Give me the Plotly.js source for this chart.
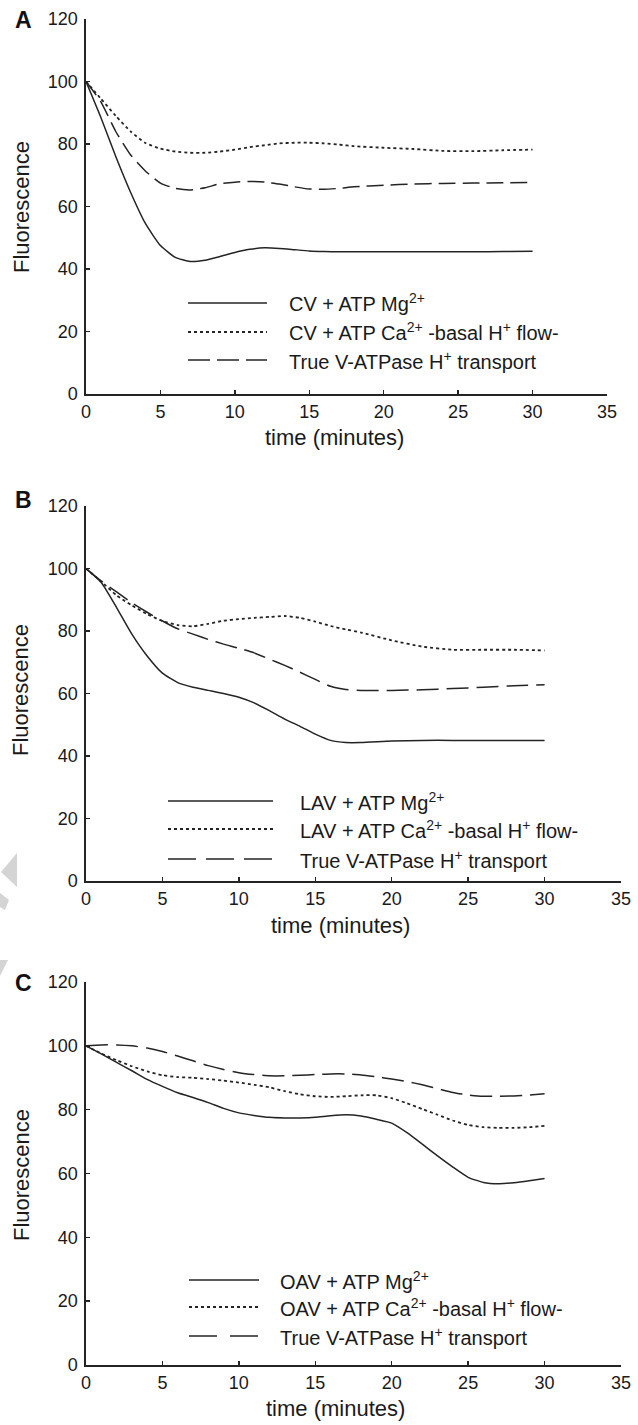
<!DOCTYPE html>
<html><head><meta charset="utf-8">
<script src="https://cdn.plot.ly/plotly-3.0.1.min.js"></script>
<style>html,body{margin:0;padding:0;background:#fff}#chart{width:638px;height:1425px}</style>
</head><body><div id="chart"></div>
<script>
// ---- data ----
const timeAB = [0,1,2,3,4,5,6,7,8,9,10,11,12,13,14,15,16,17,18,20,22,24,26,28,30];
const timeC  = [0,1,2,3,4,5,6,7,8,9,10,11,12,13,14,15,16,17,18,19,20,21,22,23,24,25,26,27,28,29,30];

// Panel A: CV
const cvMg   = [100,88.5,76,64.5,54.5,47.5,43.7,42.4,42.8,44,45.3,46.3,46.8,46.6,46.2,45.8,45.6,45.5,45.5,45.5,45.5,45.5,45.5,45.6,45.7];
const cvCa   = [100,94.5,89,84,80.3,78.5,77.6,77.2,77.2,77.6,78.2,79,79.6,80.2,80.4,80.4,80.2,79.8,79.3,78.8,78.4,77.8,77.7,78,78.2];
const cvTrue = [100,93.5,84,76.5,71.3,67.5,65.8,65.3,66,67.3,67.8,68,67.8,67.2,66.3,65.6,65.5,65.8,66.3,66.8,67.2,67.4,67.5,67.6,67.7];

// Panel B: LAV
const lavMg   = [100,95.5,87.5,79,72,66.5,63.5,62,61,60,58.8,57,54.5,51.8,49.5,47,45,44.3,44.3,44.8,45,45,45,45,45];
const lavCa   = [100,95.8,91.4,88.2,85.4,83.2,81.9,81.5,82.3,83.3,83.8,84.2,84.5,84.8,84.2,83,81.6,80.5,79.5,77,75,74,74,74,73.8];
const lavTrue = [100,96,92.5,89,86,83.2,80.7,79,77.3,75.8,74.5,73,71,69,66.8,64.5,62.3,61.3,61,61,61.2,61.6,62,62.5,62.8];

// Panel C: OAV
const oavMg   = [100,97.5,94.8,92.2,89.5,87.3,85.3,83.8,82.2,80.4,79,78.2,77.6,77.4,77.4,77.6,78.1,78.4,78,77,75.8,72.8,69.2,65.5,62,58.8,57.2,56.8,57.1,57.7,58.4];
const oavCa   = [100,97.6,95.5,93.6,92,90.8,90.2,90,89.6,89.1,88.5,87.8,87,85.8,84.8,84.2,84,84.2,84.5,84.5,83.6,82,80.2,78.4,76.6,75.2,74.5,74.3,74.3,74.5,74.9];
const oavTrue = [100,100.3,100.3,100,99.3,98.2,96.8,95.3,93.8,92.6,91.6,91,90.6,90.6,90.8,91,91.2,91.2,90.9,90.3,89.6,88.8,87.8,86.6,85.4,84.6,84.2,84.2,84.3,84.6,85];

const namesA = ['CV + ATP Mg<sup>2+</sup>', 'CV + ATP Ca<sup>2+</sup> -basal H<sup>+</sup> flow-', 'True V-ATPase H<sup>+</sup> transport'];
const namesB = ['LAV + ATP Mg<sup>2+</sup>', 'LAV + ATP Ca<sup>2+</sup> -basal H<sup>+</sup> flow-', 'True V-ATPase H<sup>+</sup> transport'];
const namesC = ['OAV + ATP Mg<sup>2+</sup>', 'OAV + ATP Ca<sup>2+</sup> -basal H<sup>+</sup> flow-', 'True V-ATPase H<sup>+</sup> transport'];
const panelLetters = ['A','B','C'];
const xTickVals = [0,5,10,15,20,25,30,35];
const yTickVals = [0,20,40,60,80,100,120];
const xTitle = 'time (minutes)';
const yTitle = 'Fluorescence';

// ---- layout helpers ----
const W = 638, H = 1425;
const X = p => p / W, Y = p => 1 - p / H;
const FONT = 'Liberation Sans, Arial, Helvetica, sans-serif';
const INK = '#242424';

const panels = [
  {time: timeAB, series: [cvMg, cvCa, cvTrue], names: namesA,
   px: [86, 607], py: [394, 19], dash: '17px,7px',
   rows: [303, 332, 360], legLine: [188, 267], legText: 287, legDash: '22px,7px',
   letterPos: [23, 20], xt: [334, 438], yt: [21, 207]},
  {time: timeAB, series: [lavMg, lavCa, lavTrue], names: namesB,
   px: [86, 621], py: [881, 506], dash: '22px,8px',
   rows: [801, 829, 859], legLine: [168, 273], legText: 298, legDash: '28px,10px',
   letterPos: [23, 500], xt: [340, 925], yt: [21, 690]},
  {time: timeC, series: [oavMg, oavCa, oavTrue], names: namesC,
   px: [86, 621], py: [1365, 982], dash: '22px,8px',
   rows: [1280, 1307, 1336], legLine: [189, 259], legText: 278, legDash: '28px,13px',
   letterPos: [23, 983], xt: [335, 1408], yt: [21, 1175]}
];
const styles = ['solid', 'dot', null];

const data = [], shapes = [], annotations = [];
const layout = {
  width: W, height: H, margin: {l: 0, r: 0, t: 0, b: 0},
  paper_bgcolor: '#fff', plot_bgcolor: '#fff', showlegend: false,
  font: {family: FONT, color: INK}
};

panels.forEach((p, i) => {
  const sfx = i === 0 ? '' : String(i + 1);
  p.series.forEach((vals, k) => {
    data.push({
      type: 'scatter', mode: 'lines', x: p.time, y: vals, name: p.names[k],
      xaxis: 'x' + sfx, yaxis: 'y' + sfx,
      line: {color: INK, width: k === 1 ? 1.8 : 1.5, dash: styles[k] || p.dash, shape: 'spline', smoothing: 0.5},
      hoverinfo: 'x+y'
    });
  });
  const common = {showline: true, linecolor: INK, linewidth: 1.6, ticks: 'inside', ticklen: 4, tickwidth: 1.4,
    tickcolor: INK, showgrid: false, zeroline: false, automargin: false, fixedrange: true,
    tickfont: {family: FONT, size: 18, color: '#1a1a1a'}};
  layout['xaxis' + sfx] = Object.assign({}, common, {
    domain: [X(p.px[0]), X(p.px[1])], range: [0, 35], tickvals: xTickVals,
    anchor: 'y' + sfx, ticklabelstandoff: 1});
  layout['yaxis' + sfx] = Object.assign({}, common, {
    domain: [Y(p.py[0]), Y(p.py[1])], range: [0, 120], tickvals: yTickVals,
    anchor: 'x' + sfx, ticklabelstandoff: 3});

  // custom legend
  p.rows.forEach((ry, k) => {
    shapes.push({type: 'line', xref: 'paper', yref: 'paper',
      x0: X(p.legLine[0]), x1: X(p.legLine[1]), y0: Y(ry), y1: Y(ry),
      line: {color: INK, width: k === 1 ? 1.8 : 1.5, dash: styles[k] || p.legDash}});
    annotations.push({xref: 'paper', yref: 'paper', x: X(p.legText), y: Y(ry),
      xanchor: 'left', yanchor: 'middle', showarrow: false, text: p.names[k],
      font: {family: FONT, size: 20, color: '#1a1a1a'}});
  });
  // titles
  annotations.push({xref: 'paper', yref: 'paper', x: X(p.xt[0]), y: Y(p.xt[1]),
    xanchor: 'center', yanchor: 'middle', showarrow: false, text: xTitle,
    font: {family: FONT, size: 22, color: '#1a1a1a'}});
  annotations.push({xref: 'paper', yref: 'paper', x: X(p.yt[0]), y: Y(p.yt[1]),
    xanchor: 'center', yanchor: 'middle', showarrow: false, text: yTitle, textangle: -90,
    font: {family: FONT, size: 22, color: '#1a1a1a'}});
  annotations.push({xref: 'paper', yref: 'paper', x: X(p.letterPos[0]), y: Y(p.letterPos[1]),
    xanchor: 'center', yanchor: 'middle', showarrow: false, text: '<b>' + panelLetters[i] + '</b>',
    font: {family: FONT, size: 23, color: '#111'}});
});

// faint watermark fragments at the left edge
const pathPx = pts => pts.map((q, j) => (j ? 'L' : 'M') + X(q[0]).toFixed(4) + ',' + Y(q[1]).toFixed(4)).join(' ') + ' Z';
shapes.push({type: 'path', xref: 'paper', yref: 'paper', layer: 'below', line: {width: 0}, fillcolor: '#d4d4d4',
  path: pathPx([[17, 853], [17, 887], [1, 872]])});
shapes.push({type: 'path', xref: 'paper', yref: 'paper', layer: 'below', line: {width: 0}, fillcolor: '#d4d4d4',
  path: pathPx([[0, 893], [9, 900], [5, 910], [0, 907]])});
shapes.push({type: 'path', xref: 'paper', yref: 'paper', layer: 'below', line: {width: 0}, fillcolor: '#d4d4d4',
  path: pathPx([[0, 960], [8, 960], [0, 976]])});

layout.shapes = shapes;
layout.annotations = annotations;
Plotly.newPlot('chart', data, layout, {displayModeBar: false, staticPlot: true});
</script></body></html>
